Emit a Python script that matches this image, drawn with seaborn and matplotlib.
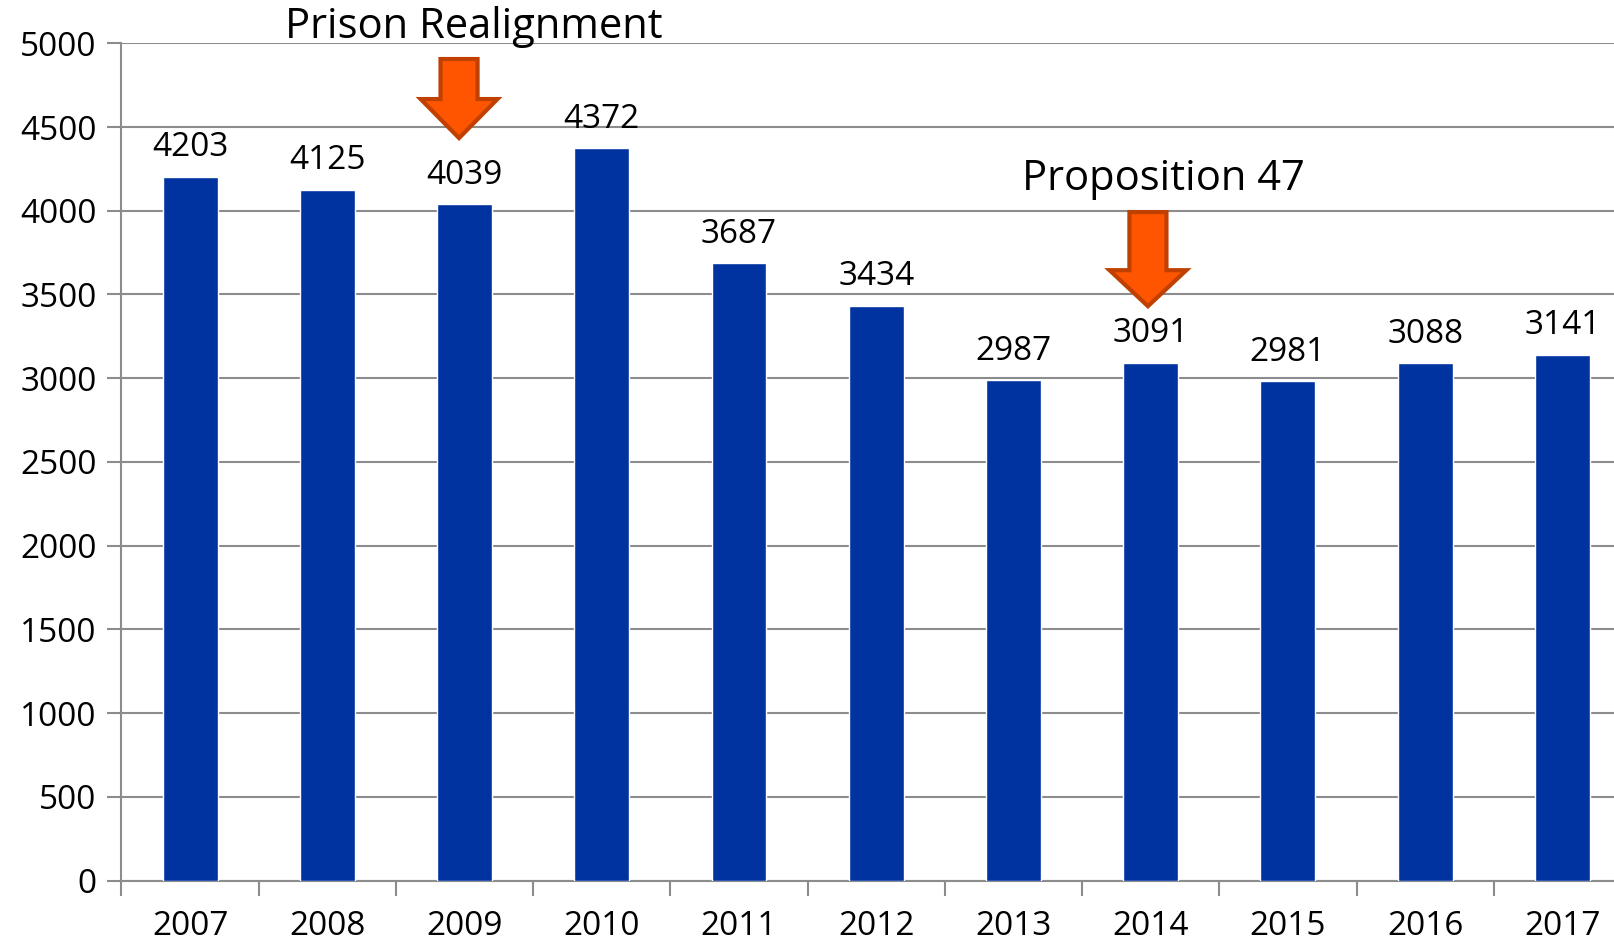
import matplotlib
matplotlib.use("Agg")
import matplotlib.pyplot as plt
import matplotlib.patches as mpatches
import seaborn as sns
import pandas as pd
import numpy as np

# values
years = ['2007', '2008', '2009', '2010', '2011', '2012', '2013', '2014', '2015', '2016', '2017']
counts = [4203, 4125, 4039, 4372, 3687, 3434, 2987, 3091, 2981, 3088, 3141]
events = ['Prison Realignment', 'Proposition 47']

df = pd.DataFrame({'Year': years, 'Count': counts})

sns.set_theme(style="white")
plt.rcParams['font.family'] = ['Open Sans', 'DejaVu Sans']
plt.rcParams['text.color'] = 'black'

fig = plt.figure(figsize=(16.15, 9.43), dpi=100)
ax = fig.add_axes([0.0752, 0.0662, 0.9347, 0.8879])

sns.barplot(x='Year', y='Count', data=df, color='#0033A0', saturation=1,
            width=0.4, ax=ax, zorder=3)
ax.set_xlim(-0.5, 10.5)
ax.set_ylim(0, 5000)
ax.set_yticks(np.arange(0, 5001, 500))
ax.set_xlabel('')
ax.set_ylabel('')

ax.grid(axis='y', color='#8c8c8c', linewidth=1.5, zorder=0)
for s in ['top', 'right']:
    ax.spines[s].set_visible(False)
for s in ['left', 'bottom']:
    ax.spines[s].set_color('#8c8c8c')
    ax.spines[s].set_linewidth(1.5)

# boundaries between categories get the tick marks
ax.set_xticks(np.arange(-0.5, 10.6, 1), minor=True)
ax.tick_params(axis='x', which='minor', length=11, width=1.5, color='#8c8c8c', direction='out')
ax.tick_params(axis='x', which='major', length=0, pad=21, labelsize=24, labelcolor='black')
ax.tick_params(axis='y', length=10, width=1.5, color='#8c8c8c', direction='out', pad=8,
               labelsize=24, labelcolor='black')
ax.tick_params(bottom=True, left=True, which='both')

ax.bar_label(ax.containers[0], fmt='%d', padding=9, fontsize=24, color='black')

# event arrows
for xc, top, neck, tip in [(1.96, 4906, 4667, 4434), (6.98, 3992, 3645, 3430)]:
    arrow = mpatches.FancyArrow(xc, top, 0, tip - top, width=0.27, head_width=0.56,
                                head_length=neck - tip, length_includes_head=True,
                                facecolor='#FF5500', edgecolor='#C04000', linewidth=3,
                                zorder=5, clip_on=False)
    ax.add_patch(arrow)

ax.text(2.07, 5100, events[0], ha='center', va='center', fontsize=30, clip_on=False)
ax.text(7.09, 4190, events[1], ha='center', va='center', fontsize=30)

fig.savefig('out.png', dpi=100)
